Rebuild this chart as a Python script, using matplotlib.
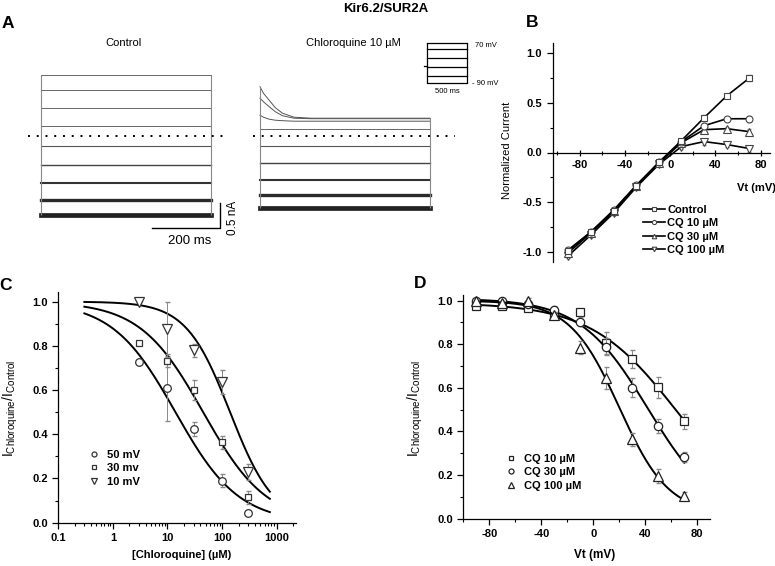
import numpy as np
import matplotlib.pyplot as plt
from matplotlib.ticker import MultipleLocator, FixedLocator, LogLocator, FormatStrFormatter, NullFormatter

plt.rcParams['font.family'] = ['Liberation Sans', 'DejaVu Sans']
plt.rcParams['mathtext.fontset'] = 'custom'
plt.rcParams['mathtext.rm'] = 'Liberation Sans'
plt.rcParams['axes.unicode_minus'] = False

# ---- data ----
# A: current traces (nA), steps -90..70 mV (top = 70 mV)
trace_t = [0, 500]
ctrl_levels = [1.21, 0.91, 0.56, 0.19, -0.21, -0.58, -0.95, -1.29, -1.59]
cq_levels = [0.35, 0.34, 0.29, 0.13, -0.20, -0.54, -0.89, -1.19, -1.45]
cq_tr_t = [0, 10, 27, 45, 66, 100, 150, 500]
cq_tr_70 = [0.98, 0.85, 0.71, 0.56, 0.45, 0.37, 0.35, 0.35]
cq_tr_50 = [0.75, 0.68, 0.58, 0.48, 0.40, 0.35, 0.34, 0.34]
cq_tr_30 = [0.41, 0.37, 0.33, 0.31, 0.30, 0.29, 0.29, 0.29]
zero_ctrl = [-37, 542]
zero_cq = [-21, 574]
prot_levels = [70, 45, 10, -25, -60, -90]
prot_hold = -20

# B: normalized I-V
vt = [-90, -70, -50, -30, -10, 10, 30, 50, 70]
b_control = [-0.99, -0.80, -0.59, -0.34, -0.10, 0.12, 0.35, 0.57, 0.75]
b_cq10 = [-0.98, -0.80, -0.58, -0.33, -0.10, 0.11, 0.27, 0.34, 0.34]
b_cq30 = [-1.01, -0.81, -0.59, -0.34, -0.11, 0.10, 0.23, 0.24, 0.21]
b_cq100 = [-1.04, -0.83, -0.61, -0.35, -0.12, 0.06, 0.11, 0.08, 0.04]
b_err = [0.02, 0.02, 0.02, 0.02, 0.02, 0.02, 0.03, 0.02, 0.03]

# C: concentration-response
conc = [3, 10, 30, 100, 300]
c_50 = [0.728, 0.608, 0.424, 0.19, 0.045]
c_50_err = [0.0, 0.146, 0.03, 0.03, 0.012]
c_30 = [0.811, 0.733, 0.60, 0.363, 0.115]
c_30_err = [0.0, 0.03, 0.045, 0.03, 0.03]
c_10 = [1.0, 0.875, 0.78, 0.635, 0.23]
c_10_err = [0.0, 0.125, 0.03, 0.055, 0.035]
# Hill fits (IC50 uM, nH)
hill_50 = (14, 0.75)
hill_30 = (45, 0.75)
hill_10 = (140, 1.08)

# D: voltage dependence
d_10 = [0.976, 0.976, 0.968, 0.934, 0.946, 0.807, 0.732, 0.602, 0.446]
d_10_err = [0.005, 0.005, 0.005, 0.01, 0.01, 0.05, 0.04, 0.05, 0.035]
d_30 = [1.0, 1.0, 0.985, 0.955, 0.904, 0.789, 0.601, 0.425, 0.283]
d_30_err = [0.005, 0.01, 0.01, 0.02, 0.02, 0.04, 0.045, 0.03, 0.025]
d_100 = [1.0, 0.99, 1.0, 0.934, 0.784, 0.644, 0.364, 0.196, 0.104]
d_100_err = [0.005, 0.01, 0.01, 0.015, 0.03, 0.05, 0.03, 0.03, 0.02]
# Boltzmann fits (top, bottom, Vh, k)
boltz_10 = (0.99, 0.0, 64, 33)
boltz_30 = (1.01, 0.0, 42, 26)
boltz_100 = (1.0, 0.02, 20, 19)

W, H = 775, 566
fig = plt.figure(figsize=(W / 100, H / 100), dpi=100)


def add_ax(left, top, right, bottom):
    return fig.add_axes([left / W, 1 - bottom / H, (right - left) / W, (bottom - top) / H])


def ftext(x, y, s, **kw):
    fig.text(x / W, 1 - y / H, s, **kw)


# ---- panel A ----
trace_lw = [0.7, 0.7, 0.7, 0.7, 0.8, 1.0, 1.5, 2.4, 3.4]
trace_col = ['#666', '#666', '#666', '#666', '#555', '#444', '#333', '#2a2a2a', '#222']

ax_ctrl = add_ax(0, 30, 240, 262)
ax_ctrl.set_xlim(-119.7, 586.2)
ax_ctrl.set_ylim(-2.526, 2.114)
ax_ctrl.axis('off')
for lev, lw, col in zip(ctrl_levels, trace_lw, trace_col):
    ax_ctrl.plot(trace_t, [lev, lev], color=col, lw=lw)
ax_ctrl.vlines(trace_t, min(ctrl_levels), max(ctrl_levels), color='#888', lw=0.8)
ax_ctrl.plot(zero_ctrl, [0, 0], color='k', lw=1.4, ls=(0, (1, 3.5)))
# scale bar: 200 ms / 0.5 nA
ax_ctrl.plot([327, 527, 527], [-1.852, -1.852, -1.352], color='k', lw=1.0)

ax_cq = add_ax(240, 30, 470, 262)
ax_cq.set_xlim(-58.8, 617.6)
ax_cq.set_ylim(-2.526, 2.114)
ax_cq.axis('off')
for tr in (cq_tr_70, cq_tr_50, cq_tr_30):
    ax_cq.plot(cq_tr_t, tr, color='#555', lw=0.7)
for lev, lw, col in list(zip(cq_levels, trace_lw, trace_col))[3:]:
    ax_cq.plot(trace_t, [lev, lev], color=col, lw=lw)
ax_cq.vlines(0, min(cq_levels), max(cq_tr_70), color='#888', lw=0.8)
ax_cq.vlines(500, min(cq_levels), max(cq_levels), color='#888', lw=0.8)
ax_cq.plot(zero_cq, [0, 0], color='k', lw=1.4, ls=(0, (1, 3.5)))

ax_p = add_ax(420, 35, 470, 95)
ax_p.set_xlim(-83.75, 541)
ax_p.set_ylim(-136, 100.3)
ax_p.axis('off')
for v in prot_levels:
    ax_p.plot([0, 500], [v, v], color='k', lw=0.9)
ax_p.vlines([0, 500], min(prot_levels), max(prot_levels), color='k', lw=0.9)
ax_p.plot([-40, 0], [prot_hold, prot_hold], color='k', lw=0.9)

ftext(475, 45.5, '70 mV', fontsize=5.5, va='center')
ftext(471.5, 83.3, '- 90 mV', fontsize=5.5, va='center')
ftext(447, 91.5, '500 ms', fontsize=5.5, ha='center', va='center')
ftext(124, 43, 'Control', fontsize=8, ha='center', va='center')
ftext(353, 43, 'Chloroquine 10 \u00b5M', fontsize=8, ha='center', va='center')
ftext(190, 241, '200 ms', fontsize=9.5, ha='center', va='center')
ftext(233.5, 218, '0.5 nA', fontsize=8.5, ha='center', va='center', rotation=90)
ftext(386, 8.5, 'Kir6.2/SUR2A', fontsize=9.5, fontweight='bold', ha='center', va='center')

# ---- panel letters ----
for lbl, x, y in (('A', 8, 24), ('B', 531.7, 22.7), ('C', 5, 285), ('D', 420, 284)):
    ftext(x, y, lbl, fontsize=12.5, fontweight='bold', ha='center', va='center')

tick_kw = dict(labelsize=8, width=0.9, color='k')


def style_ticks(ax):
    for lab in ax.get_xticklabels() + ax.get_yticklabels():
        lab.set_fontweight('bold')


# ---- panel B ----
ax_b = add_ax(552.5, 43.3, 769.7, 261.7)
ax_b.set_xlim(-104, 88)
ax_b.set_ylim(-1.1, 1.1)
for s in ('top', 'right'):
    ax_b.spines[s].set_visible(False)
ax_b.spines['bottom'].set_position(('data', 0))
for s in ('left', 'bottom'):
    ax_b.spines[s].set_linewidth(0.9)
ax_b.xaxis.set_major_locator(FixedLocator([-80, -40, 0, 40, 80]))
ax_b.xaxis.set_minor_locator(MultipleLocator(20))
ax_b.yaxis.set_major_locator(MultipleLocator(0.5))
ax_b.yaxis.set_minor_locator(MultipleLocator(0.25))
ax_b.yaxis.set_major_formatter(FormatStrFormatter('%.1f'))
ax_b.tick_params(which='major', length=4, **tick_kw)
ax_b.tick_params(which='minor', length=2.5, width=0.8)
ax_b.tick_params(axis='x', which='both', direction='inout')
style_ticks(ax_b)

b_series = [(b_control, 's', 4.5, 'Control', 5), (b_cq10, 'o', 5, 'CQ 10 \u00b5M', 4),
            (b_cq30, '^', 5.5, 'CQ 30 \u00b5M', 3), (b_cq100, 'v', 5.5, 'CQ 100 \u00b5M', 2)]
b_handles = []
for y, m, ms, lab, z in b_series:
    ax_b.errorbar(vt, y, yerr=b_err, fmt='none', ecolor='#888', elinewidth=0.6, capsize=1.2, zorder=z)
    h, = ax_b.plot(vt, y, '-', color='k', lw=1.2, marker=m, ms=ms, mfc='white', mec='#444',
                   mew=0.8, label=lab, zorder=z)
    b_handles.append(h)
ax_b.set_ylabel('Normalized Current', fontsize=8)
ax_b.yaxis.set_label_coords((511.7 - 552.5) / (769.7 - 552.5), (261.7 - 150) / 218.4)
ftext(756, 188, 'Vt (mV)', fontsize=8, fontweight='bold', ha='center', va='center')
leg_b = ax_b.legend(handles=b_handles, loc='upper left', bbox_to_anchor=(643 / W, 1 - 205 / H),
                    bbox_transform=fig.transFigure, frameon=False, fontsize=8,
                    handlelength=2.0, handletextpad=0.2, labelspacing=0.3, markerscale=0.6,
                    borderpad=0, borderaxespad=0)
for t in leg_b.get_texts():
    t.set_fontweight('bold')

ylab_ratio = r'$\mathregular{I_{Chloroquine}/I_{Control}}$'

# ---- panel C ----
ax_c = add_ax(58.3, 291.7, 295.8, 522.7)
ax_c.set_xscale('log')
ax_c.set_xlim(0.1, 10 ** 3.35)
ax_c.set_ylim(0, 1.045)
for s in ('top', 'right'):
    ax_c.spines[s].set_visible(False)
for s in ('left', 'bottom'):
    ax_c.spines[s].set_linewidth(0.9)
ax_c.xaxis.set_major_locator(FixedLocator([0.1, 1, 10, 100, 1000]))
ax_c.xaxis.set_major_formatter(FormatStrFormatter('%g'))
ax_c.xaxis.set_minor_locator(LogLocator(base=10, subs=np.arange(2, 10)))
ax_c.xaxis.set_minor_formatter(NullFormatter())
ax_c.yaxis.set_major_locator(MultipleLocator(0.2))
ax_c.yaxis.set_minor_locator(MultipleLocator(0.1))
ax_c.yaxis.set_major_formatter(FormatStrFormatter('%.1f'))
ax_c.tick_params(which='major', length=4, **tick_kw)
ax_c.tick_params(which='minor', length=2.5, width=0.8)
style_ticks(ax_c)

xfit = np.logspace(np.log10(0.3), np.log10(750), 200)
c_series = [(c_50, c_50_err, hill_50, 'o', 5.5, '50 mV'),
            (c_30, c_30_err, hill_30, 's', 4.2, '30 mv'),
            (c_10, c_10_err, hill_10, 'v', 6.5, '10 mV')]
c_handles = []
for y, err, (ic, nh), m, ms, lab in c_series:
    ax_c.plot(xfit, 1 / (1 + (xfit / ic) ** nh), color='k', lw=1.4)
    ax_c.errorbar(conc, y, yerr=err, fmt='none', ecolor='#888', elinewidth=0.7, capsize=1.8)
    h, = ax_c.plot(conc, y, ls='none', marker=m, ms=ms, mfc='white', mec='#333', mew=0.9,
                   label=lab)
    c_handles.append(h)
ftext(10, 408, ylab_ratio, fontsize=10, rotation=90, ha='center', va='center')
ftext(182, 555, '[Chloroquine] (\u00b5M)', fontsize=8, fontweight='bold', ha='center', va='center')
leg_c = ax_c.legend(handles=c_handles, loc='upper left', bbox_to_anchor=(88 / W, 1 - 450 / H),
                    bbox_transform=fig.transFigure, frameon=False, fontsize=8,
                    handlelength=1.0, handletextpad=0.7, labelspacing=0.3, markerscale=0.65,
                    borderpad=0, borderaxespad=0)
for t in leg_c.get_texts():
    t.set_fontweight('bold')

# ---- panel D ----
ax_d = add_ax(463.3, 295, 710.3, 518.7)
ax_d.set_xlim(-100, 90)
ax_d.set_ylim(0, 1.026)
for s in ('top', 'right'):
    ax_d.spines[s].set_visible(False)
for s in ('left', 'bottom'):
    ax_d.spines[s].set_linewidth(0.9)
ax_d.xaxis.set_major_locator(FixedLocator([-80, -40, 0, 40, 80]))
ax_d.xaxis.set_minor_locator(MultipleLocator(20))
ax_d.yaxis.set_major_locator(MultipleLocator(0.2))
ax_d.yaxis.set_minor_locator(MultipleLocator(0.1))
ax_d.yaxis.set_major_formatter(FormatStrFormatter('%.1f'))
ax_d.tick_params(which='major', length=4, **tick_kw)
ax_d.tick_params(which='minor', length=2.5, width=0.8)
style_ticks(ax_d)

vfit = np.linspace(-90, 70, 200)
d_series = [(d_10, d_10_err, boltz_10, 's', 5.5, 'CQ 10 \u00b5M'),
            (d_30, d_30_err, boltz_30, 'o', 6, 'CQ 30 \u00b5M'),
            (d_100, d_100_err, boltz_100, '^', 6.5, 'CQ 100 \u00b5M')]
d_handles = []
for y, err, (top, bot, vh, k), m, ms, lab in d_series:
    ax_d.plot(vfit, bot + (top - bot) / (1 + np.exp((vfit - vh) / k)), color='k', lw=1.4)
    ax_d.errorbar(vt, y, yerr=err, fmt='none', ecolor='#888', elinewidth=0.7, capsize=1.8)
    h, = ax_d.plot(vt, y, ls='none', marker=m, ms=ms, mfc='white', mec='#222', mew=0.9, label=lab)
    d_handles.append(h)
ftext(415, 408, ylab_ratio, fontsize=10, rotation=90, ha='center', va='center')
ftext(595, 555, 'Vt (mV)', fontsize=8.5, fontweight='bold', ha='center', va='center')
leg_d = ax_d.legend(handles=d_handles, loc='upper left', bbox_to_anchor=(505 / W, 1 - 454 / H),
                    bbox_transform=fig.transFigure, frameon=False, fontsize=8,
                    handlelength=1.0, handletextpad=0.7, labelspacing=0.3, markerscale=0.6,
                    borderpad=0, borderaxespad=0)
for t in leg_d.get_texts():
    t.set_fontweight('bold')

fig.savefig('out.png', dpi=100)
